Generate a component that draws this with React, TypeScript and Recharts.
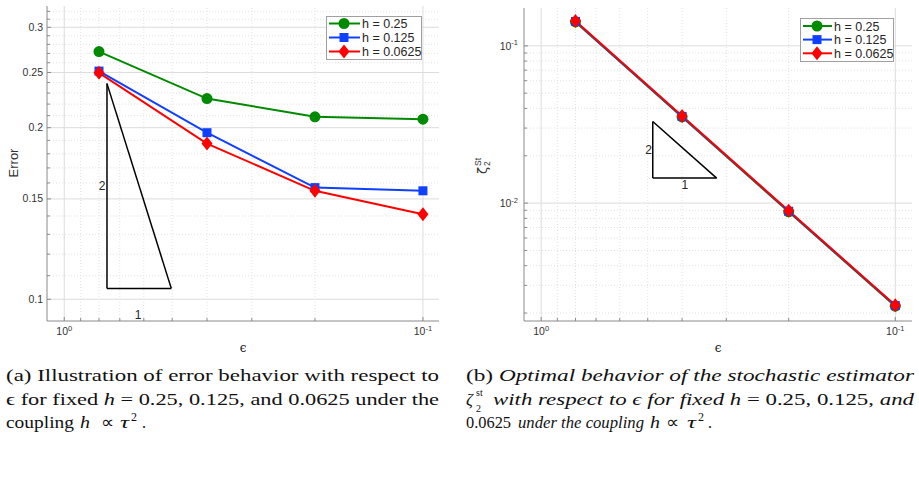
import React from 'react';
import { LineChart, Line, XAxis, YAxis, ReferenceLine, ReferenceDot, Legend } from 'recharts';

// epsilon values (x axis, shown reversed on a log scale)
const EPS = [0.8, 0.4, 0.2, 0.1];
const SERIES_NAMES = ['h = 0.25', 'h = 0.125', 'h = 0.0625'];

// (a) error
const ERR_H025 = [0.272, 0.225, 0.209, 0.207];
const ERR_H0125 = [0.2514, 0.196, 0.157, 0.155];
const ERR_H00625 = [0.2496, 0.1876, 0.155, 0.141];

// (b) stochastic estimator zeta_2^St
const ZETA_H025 = [0.1418, 0.0353, 0.0088, 0.00221];
const ZETA_H0125 = [0.143, 0.0356, 0.00888, 0.00223];
const ZETA_H00625 = [0.1437, 0.0358, 0.00893, 0.00224];

// ticks
const X_TICKS = [1, 0.9, 0.8, 0.7, 0.6, 0.5, 0.4, 0.3, 0.2, 0.1];
const X_MAJOR = [1, 0.1];
const ERR_Y_TICKS = [
  0.1, 0.11, 0.12, 0.13, 0.14, 0.15, 0.16, 0.17, 0.18, 0.19, 0.2, 0.21,
  0.22, 0.23, 0.24, 0.25, 0.26, 0.27, 0.28, 0.29, 0.3, 0.31, 0.32,
];
const ERR_Y_MAJOR = [0.1, 0.15, 0.2, 0.25, 0.3];
const ZETA_Y_TICKS = [
  0.002, 0.003, 0.004, 0.005, 0.006, 0.007, 0.008, 0.009, 0.01,
  0.02, 0.03, 0.04, 0.05, 0.06, 0.07, 0.08, 0.09, 0.1,
];
const ZETA_Y_MAJOR = [0.01, 0.1];

// slope triangles (data coordinates) and their labels
const ERR_TRIANGLE = [
  { x: 0.76, y: 0.239 },
  { x: 0.76, y: 0.1045 },
  { x: 0.503, y: 0.1045 },
];
const ERR_TRI_LABELS = [
  { x: 0.784, y: 0.158, text: '2' },
  { x: 0.622, y: 0.0941, text: '1' },
];
const ZETA_TRIANGLE = [
  { x: 0.484, y: 0.033 },
  { x: 0.484, y: 0.01442 },
  { x: 0.3195, y: 0.01442 },
];
const ZETA_TRI_LABELS = [
  { x: 0.497, y: 0.0218, text: '2' },
  { x: 0.3926, y: 0.01315, text: '1' },
];

const COLORS = ['#008a00', '#1040ff', '#ff0000'];
const SHAPES = ['circle', 'square', 'diamond'];

const errData = EPS.map((eps, i) => ({ eps, s0: ERR_H025[i], s1: ERR_H0125[i], s2: ERR_H00625[i] }));
const zetaData = EPS.map((eps, i) => ({ eps, s0: ZETA_H025[i], s1: ZETA_H0125[i], s2: ZETA_H00625[i] }));

const AXIS = '#8a8a8a';
const LABEL = '#333333';
const FONT = '"Liberation Sans", Arial, sans-serif';

const isIn = (v: number, list: number[]) => list.some((m) => Math.abs(m - v) < 1e-9);

function Marker({ shape, cx, cy, color, k }: any) {
  if (cx == null || cy == null) return null;
  if (shape === 'circle') return <circle key={k} cx={cx} cy={cy} r={5.5} fill={color} />;
  if (shape === 'square') return <rect key={k} x={cx - 4.5} y={cy - 4.5} width={9} height={9} fill={color} />;
  return (
    <polygon
      key={k}
      points={`${cx},${cy - 7} ${cx + 5.5},${cy} ${cx},${cy + 7} ${cx - 5.5},${cy}`}
      fill={color}
    />
  );
}

function Pow10({ v, x, y, anchor }: any) {
  const e = Math.round(Math.log10(v));
  return (
    <text x={x} y={y} textAnchor={anchor} fill={LABEL} fontSize={10.5}>
      <tspan>10</tspan>
      <tspan dy={-4.5} fontSize={7.5}>{String(e)}</tspan>
    </text>
  );
}

// custom ticks: MATLAB-like inward tick marks, labels only on majors
const makeTick = (side: string, majors: number[], labelKind: 'none' | 'plain' | 'pow') => (props: any) => {
  const { x, y, payload } = props;
  const v = payload.value;
  const major = isIn(v, majors);
  const len = major ? 4 : 3;
  let line = null;
  if (side === 'left') line = <line x1={x} y1={y} x2={x + len} y2={y} stroke={AXIS} />;
  if (side === 'right') line = <line x1={x} y1={y} x2={x - len} y2={y} stroke={AXIS} />;
  if (side === 'bottom') line = <line x1={x} y1={y} x2={x} y2={y - len} stroke={AXIS} />;
  if (side === 'top') line = <line x1={x} y1={y} x2={x} y2={y + len} stroke={AXIS} />;
  let label = null;
  if (major && labelKind === 'plain') {
    label = (
      <text x={x - 4} y={y + 3.5} textAnchor="end" fill={LABEL} fontSize={10.5}>
        {String(v)}
      </text>
    );
  } else if (major && labelKind === 'pow') {
    if (side === 'bottom') label = <Pow10 v={v} x={x} y={y + 14} anchor="middle" />;
    else label = <Pow10 v={v} x={x - 6} y={y + 4} anchor="end" />;
  }
  return (
    <g>
      {line}
      {label}
    </g>
  );
};

function LegendBox({ width, height, lineX, markerX, textX, rowY }: any) {
  return (
    <svg width={width} height={height} style={{ display: 'block' }}>
      <rect x={0.5} y={0.5} width={width - 1} height={height - 1} fill="#fff" stroke="#a0a0a0" />
      {SERIES_NAMES.map((name, i) => (
        <g key={name}>
          <line x1={lineX[0]} x2={lineX[1]} y1={rowY[i]} y2={rowY[i]} stroke={COLORS[i]} strokeWidth={2} />
          <Marker shape={SHAPES[i]} cx={markerX} cy={rowY[i]} color={COLORS[i]} />
          <text x={textX} y={rowY[i] + 4.5} fontSize={12.5} fill="#262626" fontFamily={FONT}>
            {name}
          </text>
        </g>
      ))}
    </svg>
  );
}

function Panel(props: any) {
  const {
    data, width, height, margin, yWidth, xDomain, yDomain, yTicks, yMajor, yLabelKind,
    triangle, triLabels, yLabel, epsX, legend,
  } = props;
  return (
    <LineChart width={width} height={height} data={data} margin={margin} style={{ fontFamily: FONT }}>
      <XAxis
        dataKey="eps"
        type="number"
        scale="log"
        domain={xDomain}
        allowDataOverflow
        reversed
        ticks={X_TICKS}
        interval={0}
        height={39}
        tickSize={0}
        tickMargin={0}
        tickLine={false}
        stroke={AXIS}
        tick={makeTick('bottom', X_MAJOR, 'pow')}
        label={() => (
          <text x={epsX} y={352} textAnchor="middle" fontSize={12} fill="#222" fontFamily="DejaVu Serif, serif">
            ϵ
          </text>
        )}
      />
      <XAxis
        xAxisId="top"
        orientation="top"
        dataKey="eps"
        type="number"
        scale="log"
        domain={xDomain}
        allowDataOverflow
        reversed
        ticks={X_TICKS}
        interval={0}
        height={0}
        tickSize={0}
        tickMargin={0}
        tickLine={false}
        stroke={AXIS}
        tick={makeTick('top', X_MAJOR, 'none')}
      />
      <YAxis
        type="number"
        scale="log"
        domain={yDomain}
        allowDataOverflow
        ticks={yTicks}
        interval={0}
        width={yWidth}
        tickSize={0}
        tickMargin={0}
        tickLine={false}
        stroke={AXIS}
        tick={makeTick('left', yMajor, yLabelKind)}
        label={yLabel}
      />
      <YAxis
        yAxisId="right"
        orientation="right"
        type="number"
        scale="log"
        domain={yDomain}
        allowDataOverflow
        ticks={yTicks}
        interval={0}
        width={0}
        tickSize={0}
        tickMargin={0}
        tickLine={false}
        stroke={AXIS}
        tick={makeTick('right', yMajor, 'none')}
      />

      {X_TICKS.map((v) => (
        <ReferenceLine
          key={'gx' + v}
          x={v}
          stroke={isIn(v, X_MAJOR) ? '#dcdcdc' : '#e2e2e2'}
          strokeDasharray={isIn(v, X_MAJOR) ? undefined : '1 2'}
        />
      ))}
      {yTicks.map((v: number) => (
        <ReferenceLine
          key={'gy' + v}
          y={v}
          stroke={isIn(v, yMajor) ? '#dcdcdc' : '#e2e2e2'}
          strokeDasharray={isIn(v, yMajor) ? undefined : '1 2'}
        />
      ))}

      {[0, 1, 2].map((i) => (
        <ReferenceLine
          key={'tri' + i}
          segment={[triangle[i], triangle[(i + 1) % 3]]}
          stroke="#000"
          strokeWidth={1.5}
          ifOverflow="visible"
        />
      ))}
      {triLabels.map((t: any) => (
        <ReferenceDot
          key={'tl' + t.text}
          x={t.x}
          y={t.y}
          r={1}
          fillOpacity={0}
          strokeOpacity={0}
          label={{ value: t.text, position: 'center', fontSize: 12, fill: '#262626' }}
        />
      ))}

      {['s0', 's1', 's2'].map((key, i) => (
        <Line
          key={key}
          dataKey={key}
          name={SERIES_NAMES[i]}
          stroke={COLORS[i]}
          strokeWidth={2}
          isAnimationActive={false}
          dot={(p: any) => <Marker k={key + p.index} shape={SHAPES[i]} cx={p.cx} cy={p.cy} color={COLORS[i]} />}
          activeDot={false}
        />
      ))}

      <Legend
        layout="vertical"
        align="center"
        verticalAlign="middle"
        wrapperStyle={{ position: 'absolute', left: legend.left, top: legend.top, width: legend.width, height: legend.height }}
        content={() => <LegendBox {...legend} />}
      />
    </LineChart>
  );
}

const serif = "'Liberation Serif', 'Times New Roman', Times, serif";
const fit = 'spacingAndGlyphs';

// a piece of caption text stretched to a given span
function Seg({ x, y, w, it, size, children }: any) {
  return (
    <text x={x} y={y} textLength={w} lengthAdjust={fit} fontStyle={it ? 'italic' : 'normal'} fontSize={size}>
      {children}
    </text>
  );
}

function Captions() {
  return (
    <svg width={919} height={480} style={{ position: 'absolute', left: 0, top: 0, fontFamily: serif }} fontSize={17} fill="#111">
      {/* (a) */}
      <text x={6} y={381} textLength={433} lengthAdjust={fit}>
        (a) Illustration of error behavior with respect to
      </text>
      <text x={6} y={405} textLength={433} lengthAdjust={fit}>
        ϵ for fixed <tspan fontStyle="italic">h</tspan> = 0.25, 0.125, and 0.0625 under the
      </text>
      <Seg x={6} y={428} w={68}>coupling</Seg>
      <Seg x={80} y={428} w={10} it>h</Seg>
      <Seg x={101} y={428} w={13}>∝</Seg>
      <Seg x={120} y={428} w={9} it>τ</Seg>
      <Seg x={131} y={421} w={6} size={12}>2</Seg>
      <Seg x={142} y={428} w={4}>.</Seg>

      {/* (b) */}
      <text x={466} y={381} textLength={448} lengthAdjust={fit}>
        (b) <tspan fontStyle="italic">Optimal behavior of the stochastic estimator</tspan>
      </text>
      <text x={466} y={405} fontStyle="italic">ζ</text>
      <text x={476} y={396} fontSize={10}>st</text>
      <text x={476} y={412} fontSize={10}>2</text>
      <text x={493} y={405} textLength={421} lengthAdjust={fit}>
        <tspan fontStyle="italic">with respect to ϵ for fixed h</tspan> = 0.25, 0.125, <tspan fontStyle="italic">and</tspan>
      </text>
      <Seg x={466} y={428} w={45}>0.0625</Seg>
      <Seg x={518} y={428} w={126} it>under the coupling</Seg>
      <Seg x={650} y={428} w={10} it>h</Seg>
      <Seg x={666} y={428} w={13}>∝</Seg>
      <Seg x={687} y={428} w={9} it>τ</Seg>
      <Seg x={698} y={421} w={6} size={12}>2</Seg>
      <Seg x={708} y={428} w={4}>.</Seg>
    </svg>
  );
}

export default function App() {
  return (
    <div style={{ position: 'absolute', left: 0, top: 0, width: 919, height: 480, background: '#fff', overflow: 'hidden' }}>
      <Captions />
      <div style={{ position: 'absolute', left: 0, top: 0 }}>
        <Panel
          data={errData}
          width={460}
          height={360}
          margin={{ top: 6, right: 21, left: 0, bottom: 0 }}
          yWidth={47}
          xDomain={[0.0902, 1.117]}
          yDomain={[0.0916, 0.327]}
          yTicks={ERR_Y_TICKS}
          yMajor={ERR_Y_MAJOR}
          yLabelKind="plain"
          triangle={ERR_TRIANGLE}
          triLabels={ERR_TRI_LABELS}
          epsX={243}
          yLabel={() => (
            <text x={13} y={163} transform="rotate(-90 13 163)" textAnchor="middle" dominantBaseline="central" fontSize={13} fill={LABEL}>
              Error
            </text>
          )}
          legend={{ left: 326, top: 16, width: 96, height: 44, lineX: [3, 34], markerX: 18, textX: 36, rowY: [7.5, 21.5, 35.5] }}
        />
      </div>
      <div style={{ position: 'absolute', left: 460, top: 0 }}>
        <Panel
          data={zetaData}
          width={459}
          height={360}
          margin={{ top: 8, right: 7, left: 0, bottom: 0 }}
          yWidth={64}
          xDomain={[0.0897, 1.118]}
          yDomain={[0.00178, 0.174]}
          yTicks={ZETA_Y_TICKS}
          yMajor={ZETA_Y_MAJOR}
          yLabelKind="pow"
          triangle={ZETA_TRIANGLE}
          triLabels={ZETA_TRI_LABELS}
          epsX={258}
          yLabel={() => (
            <g transform="translate(27,174) rotate(-90)" fill={LABEL}>
              <text x={0} y={0} fontSize={13} fontFamily="DejaVu Sans, sans-serif">ζ</text>
              <text x={8} y={-6} fontSize={8.5}>St</text>
              <text x={8} y={3} fontSize={8.5}>2</text>
            </g>
          )}
          legend={{ left: 340, top: 18, width: 94, height: 44, lineX: [3, 32], markerX: 17, textX: 34, rowY: [8, 21.6, 35.3] }}
        />
      </div>
    </div>
  );
}
